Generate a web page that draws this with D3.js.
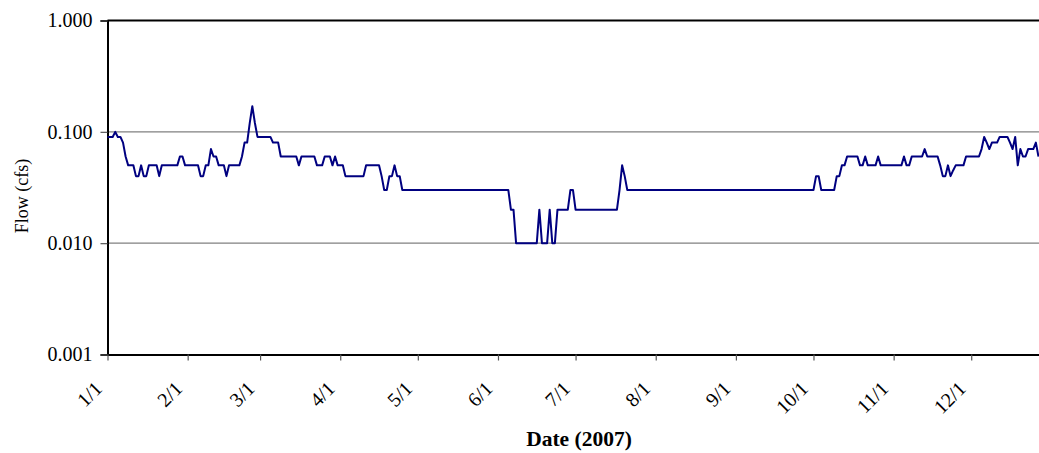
<!DOCTYPE html>
<html><head><meta charset="utf-8">
<script src="https://cdn.jsdelivr.net/npm/d3@7"></script>
<style>
html,body{margin:0;padding:0;background:#fff;}
svg{display:block;font-family:"Liberation Serif","Times New Roman",serif;}
</style></head>
<body>
<svg id="chart" width="1039" height="453"></svg>
<script>
// Daily flow (cfs), 2007
const startDate = "2007-01-01";
const janFlow = [0.09,0.09,0.09,0.1,0.09,0.09,0.08,0.06,0.05,0.05,
  0.05,0.04,0.04,0.05,0.04,0.04,0.05,0.05,0.05,0.05,
  0.04,0.05,0.05,0.05,0.05,0.05,0.05,0.05,0.06,0.06,0.05];
const febFlow = [0.05,0.05,0.05,0.05,0.05,0.04,0.04,0.05,0.05,0.07,
  0.06,0.06,0.05,0.05,0.05,0.04,0.05,0.05,0.05,0.05,
  0.05,0.06,0.08,0.08,0.12,0.17,0.12,0.09];
const marFlow = [0.09,0.09,0.09,0.09,0.09,0.08,0.08,0.08,0.06,0.06,
  0.06,0.06,0.06,0.06,0.06,0.05,0.06,0.06,0.06,0.06,
  0.06,0.06,0.05,0.05,0.05,0.06,0.06,0.06,0.05,0.06,0.05];
const aprFlow = [0.05,0.05,0.04,0.04,0.04,0.04,0.04,0.04,0.04,0.04,
  0.05,0.05,0.05,0.05,0.05,0.05,0.04,0.03,0.03,0.04,
  0.04,0.05,0.04,0.04,0.03,0.03,0.03,0.03,0.03,0.03];
const mayFlow = [0.03,0.03,0.03,0.03,0.03,0.03,0.03,0.03,0.03,0.03,
  0.03,0.03,0.03,0.03,0.03,0.03,0.03,0.03,0.03,0.03,
  0.03,0.03,0.03,0.03,0.03,0.03,0.03,0.03,0.03,0.03,0.03];
const junFlow = [0.03,0.03,0.03,0.03,0.03,0.02,0.02,0.01,0.01,0.01,
  0.01,0.01,0.01,0.01,0.01,0.01,0.02,0.01,0.01,0.01,
  0.02,0.01,0.01,0.02,0.02,0.02,0.02,0.02,0.03,0.03];
const julFlow = [0.02,0.02,0.02,0.02,0.02,0.02,0.02,0.02,0.02,0.02,
  0.02,0.02,0.02,0.02,0.02,0.02,0.02,0.03,0.05,0.04,
  0.03,0.03,0.03,0.03,0.03,0.03,0.03,0.03,0.03,0.03,0.03];
const augFlow = [0.03,0.03,0.03,0.03,0.03,0.03,0.03,0.03,0.03,0.03,
  0.03,0.03,0.03,0.03,0.03,0.03,0.03,0.03,0.03,0.03,
  0.03,0.03,0.03,0.03,0.03,0.03,0.03,0.03,0.03,0.03,0.03];
const sepFlow = [0.03,0.03,0.03,0.03,0.03,0.03,0.03,0.03,0.03,0.03,
  0.03,0.03,0.03,0.03,0.03,0.03,0.03,0.03,0.03,0.03,
  0.03,0.03,0.03,0.03,0.03,0.03,0.03,0.03,0.03,0.03];
const octFlow = [0.03,0.04,0.04,0.03,0.03,0.03,0.03,0.03,0.03,0.04,
  0.04,0.05,0.05,0.06,0.06,0.06,0.06,0.06,0.05,0.05,
  0.06,0.05,0.05,0.05,0.05,0.06,0.05,0.05,0.05,0.05,0.05];
const novFlow = [0.05,0.05,0.05,0.05,0.06,0.05,0.05,0.06,0.06,0.06,
  0.06,0.06,0.07,0.06,0.06,0.06,0.06,0.06,0.05,0.04,
  0.04,0.05,0.04,0.045,0.05,0.05,0.05,0.05,0.06,0.06];
const decFlow = [0.06,0.06,0.06,0.06,0.07,0.09,0.08,0.07,0.08,0.08,
  0.08,0.09,0.09,0.09,0.09,0.08,0.07,0.09,0.05,0.07,
  0.06,0.06,0.07,0.07,0.07,0.08,0.06];
const monthTicks = ["2007-01-01","2007-02-01","2007-03-01","2007-04-01","2007-05-01","2007-06-01",
  "2007-07-01","2007-08-01","2007-09-01","2007-10-01","2007-11-01","2007-12-01"];
const yTicks = [1, 0.1, 0.01, 0.001];
const yGrid = [0.1, 0.01];

const flow = [].concat(janFlow,febFlow,marFlow,aprFlow,mayFlow,junFlow,julFlow,
  augFlow,sepFlow,octFlow,novFlow,decFlow);
const parse = d3.utcParse("%Y-%m-%d");
const t0 = parse(startDate);
const data = flow.map((v,i)=>({date: d3.utcDay.offset(t0, i), v}));

const svg = d3.select("#chart");
const plotLeft = 107.5, plotTop = 20.5, plotBottom = 354.5;
const dayPx = 2.586;
const x = d3.scaleUtc().domain([t0, parse("2008-01-01")]).range([plotLeft, plotLeft + 365*dayPx]);
const y = d3.scaleLog().domain([0.001, 1]).range([plotBottom, plotTop]);

// gridlines
svg.append("g").selectAll("line").data(yGrid).join("line")
  .attr("x1", plotLeft).attr("x2", 1039).attr("y1", d=>y(d)).attr("y2", d=>y(d))
  .attr("stroke", "#808080").attr("stroke-width", 1.4);
// top border
svg.append("line").attr("x1", plotLeft).attr("x2", 1039).attr("y1", y(1)).attr("y2", y(1))
  .attr("stroke", "#000").attr("stroke-width", 2);

// y axis
const yAxis = svg.append("g").attr("transform", `translate(${plotLeft},0)`)
  .call(d3.axisLeft(y).tickValues(yTicks).tickFormat(d3.format(".3f")).tickSize(7).tickPadding(8));
yAxis.select(".domain").attr("stroke", "#000").attr("stroke-width", 2);
yAxis.selectAll(".tick line").attr("stroke", "#555").attr("stroke-width", 1.2);
yAxis.selectAll(".tick text").attr("font-size", 20).attr("font-family", "Liberation Serif").attr("fill", "#000");

// x axis
const xAxis = svg.append("g").attr("transform", `translate(0,${plotBottom})`)
  .call(d3.axisBottom(x).tickValues(monthTicks.map(parse)).tickFormat(d3.utcFormat("%-m/%-d")).tickSize(6).tickSizeOuter(0));
xAxis.select(".domain").attr("stroke", "#000").attr("stroke-width", 2);
xAxis.selectAll(".tick line").attr("stroke", "#555").attr("stroke-width", 1.2);
xAxis.selectAll(".tick text")
  .attr("font-size", 20).attr("font-family", "Liberation Serif").attr("fill", "#000")
  .attr("text-anchor", "end").attr("dy", null)
  .attr("transform", "translate(-11,29) rotate(-45)");

// line
svg.append("path").datum(data)
  .attr("fill", "none").attr("stroke", "#000080").attr("stroke-width", 2)
  .attr("stroke-linejoin", "round")
  .attr("d", d3.line().x(d=>x(d.date)).y(d=>y(d.v)));

// titles
svg.append("text").attr("x", 579).attr("y", 446).attr("text-anchor", "middle")
  .attr("font-size", 21.5).attr("font-weight", "bold").text("Date (2007)");
svg.append("text").attr("transform", "translate(28,196) rotate(-90)").attr("text-anchor", "middle")
  .attr("font-size", 18).text("Flow (cfs)");
</script>
</body></html>
